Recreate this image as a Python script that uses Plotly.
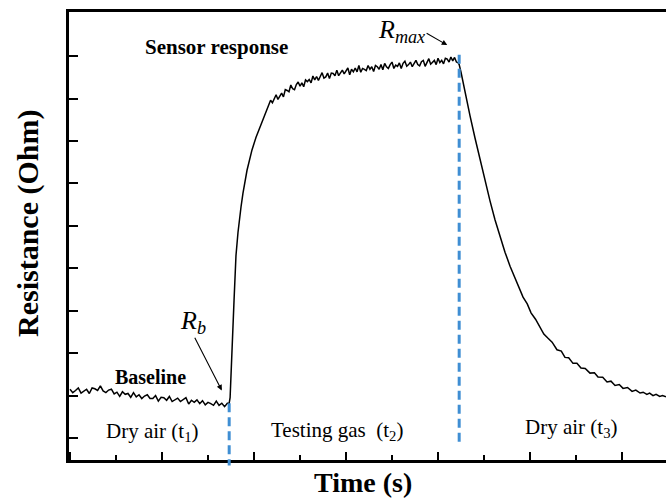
import plotly.graph_objects as go

# ---- data ----
# baseline in dry air (t1)
base_time = [0, 3, 6, 9, 12, 15, 18, 21, 24, 27, 30, 33, 36, 39, 42, 45, 48, 51, 54, 57, 60, 63,
             66, 69, 72, 75, 78, 81, 84, 87, 90, 93, 96, 99, 102, 105, 108, 111, 114, 117, 120,
             123, 126, 129, 132, 135, 138, 141, 144, 147, 150, 153, 156, 159, 162, 165, 168, 171,
             173]
base_res = [1.15, 1.07, 1.12, 1.18, 1.06, 1.11, 1.15, 1.05, 1.18, 1.16, 1.12, 1.23, 1.11, 1.07,
            1.13, 1.15, 1.04, 1.08, 0.98, 1.09, 1.03, 1.05, 0.96, 1.07, 0.97, 1.02, 0.93, 0.99,
            1.02, 0.93, 0.93, 1.00, 0.87, 0.96, 0.95, 0.89, 0.98, 0.86, 0.90, 0.94, 0.86, 0.90,
            0.95, 0.80, 0.89, 0.84, 0.90, 0.81, 0.88, 0.78, 0.84, 0.81, 0.77, 0.87, 0.77, 0.82,
            0.74, 0.82, 0.82]
# response in testing gas (t2)
gas_time = [174, 175.5, 177, 178.3, 180.4, 182.6, 185.9, 188, 192.4, 197.8, 202.2, 206.5, 212,
            216] + list(range(218, 421, 2)) + [422, 423]
gas_res = [0.95, 1.91, 2.43, 3.25, 4.30, 4.85, 5.45, 5.77, 6.31, 6.79, 7.09, 7.33, 7.61, 7.84,
           7.96, 7.90, 8.00, 8.09, 7.98, 8.07, 8.13, 8.04, 8.21, 8.19, 8.16, 8.32, 8.23, 8.21,
           8.33, 8.39, 8.29, 8.37, 8.28, 8.44, 8.40, 8.45, 8.37, 8.53, 8.44, 8.52, 8.43, 8.52,
           8.61, 8.48, 8.51, 8.60, 8.47, 8.60, 8.59, 8.54, 8.67, 8.54, 8.61, 8.67, 8.58, 8.65,
           8.72, 8.56, 8.69, 8.63, 8.72, 8.63, 8.78, 8.62, 8.71, 8.69, 8.66, 8.78, 8.69, 8.75,
           8.64, 8.78, 8.75, 8.69, 8.80, 8.68, 8.83, 8.75, 8.71, 8.80, 8.86, 8.71, 8.79, 8.76,
           8.84, 8.71, 8.83, 8.88, 8.76, 8.80, 8.86, 8.75, 8.83, 8.90, 8.80, 8.77, 8.87, 8.90,
           8.76, 8.86, 8.94, 8.81, 8.85, 8.90, 8.80, 8.95, 8.85, 8.90, 8.82, 8.95, 8.93, 8.86,
           8.98, 8.89, 8.97, 8.86, 8.84, 8.80]
# recovery in dry air (t3)
rec_time = [425, 429.3, 434.8, 440.2, 445.7, 451.1, 456.5, 462.0, 467.4, 472.8, 478.3, 484.8,
            492.4, 497, 501.1, 506, 510.9, 515, 519.6, 524, 529.3, 534, 538.0, 542, 546.7, 551,
            555.4, 560, 565.2, 570, 573.9, 579, 583.7, 588, 592.4, 597, 601.1, 606, 610.9, 615,
            619.6, 623, 627, 630, 633.7, 637, 641, 644, 647.8]
rec_res = [8.62, 8.13, 7.59, 7.07, 6.55, 6.06, 5.59, 5.14, 4.74, 4.38, 4.05, 3.70, 3.32, 3.16,
           2.95, 2.80, 2.61, 2.45, 2.35, 2.26, 2.08, 2.05, 1.90, 1.89, 1.76, 1.76, 1.65, 1.64,
           1.53, 1.54, 1.44, 1.43, 1.32, 1.34, 1.24, 1.26, 1.17, 1.19, 1.10, 1.13, 1.06, 1.08,
           1.03, 1.06, 1.00, 1.03, 0.98, 1.00, 0.97]

time_s = base_time + gas_time + rec_time
resistance = base_res + gas_res + rec_res

t1_end = 173      # end of dry air (t1) / gas switched on
t2_end = 423      # end of testing gas (t2)
region_labels = ["Dry air (t<sub>1</sub>)", "Testing gas  (t<sub>2</sub>)", "Dry air (t<sub>3</sub>)"]
region_label_x = [88.6, 290, 545]
region_label_y = [0.14, 0.16, 0.24]

x_range = [-1.1, 647.8]
y_range = [-0.518, 10.04]
y_tickvals = list(range(0, 10))

SERIF = "Liberation Serif"
BLUE = "#3f8ed3"


def to_paper(v):
    return (v - y_range[0]) / (y_range[1] - y_range[0])


fig = go.Figure()
fig.add_trace(go.Scatter(x=time_s, y=resistance, mode="lines",
                         line=dict(color="black", width=1.5), showlegend=False,
                         hoverinfo="skip"))

# dashed markers of the switching times
r_b = base_res[-1]
r_max = max(resistance)
fig.add_shape(type="line", xref="x", yref="paper", x0=t1_end, x1=t1_end,
              y0=to_paper(r_b), y1=-0.012,
              line=dict(color=BLUE, width=3, dash="9px,5px"))
fig.add_shape(type="line", xref="x", yref="paper", x0=t2_end, x1=t2_end,
              y0=to_paper(r_max + 0.05), y1=to_paper(-0.19),
              line=dict(color=BLUE, width=3, dash="9px,5px"))

annotations = []
# arrows
annotations.append(dict(x=t2_end - 13, y=r_max + 0.28, ax=386, ay=r_max + 0.58,
                        xref="x", yref="y", axref="x", ayref="y", text="",
                        showarrow=True, arrowhead=2, arrowsize=1, arrowwidth=1.1,
                        arrowcolor="black"))
annotations.append(dict(x=t1_end - 8, y=r_b + 0.3, ax=134.8, ay=2.4,
                        xref="x", yref="y", axref="x", ayref="y", text="",
                        showarrow=True, arrowhead=2, arrowsize=1, arrowwidth=1.1,
                        arrowcolor="black"))
# labels
annotations.append(dict(x=158.7, y=9.21, xref="x", yref="y", text="<b>Sensor response</b>",
                        showarrow=False, font=dict(family=SERIF, size=21, color="black")))
annotations.append(dict(x=87, y=1.44, xref="x", yref="y", text="<b>Baseline</b>",
                        showarrow=False, font=dict(family=SERIF, size=20, color="black")))
annotations.append(dict(x=360, y=9.59, xref="x", yref="y", text="<i>R<sub>max</sub></i>",
                        showarrow=False, font=dict(family=SERIF, size=26, color="black")))
annotations.append(dict(x=134, y=2.73, xref="x", yref="y", text="<i>R<sub>b</sub></i>",
                        showarrow=False, font=dict(family=SERIF, size=26, color="black")))
for txt, lx, ly in zip(region_labels, region_label_x, region_label_y):
    annotations.append(dict(x=lx, y=ly, xref="x", yref="y", text=txt, showarrow=False,
                            font=dict(family=SERIF, size=21, color="black")))
# axis titles
annotations.append(dict(x=0.492, y=-0.051, xref="paper", yref="paper", text="<b>Time (s)</b>",
                        xanchor="center", yanchor="middle",
                        showarrow=False, font=dict(family=SERIF, size=28, color="black")))
annotations.append(dict(x=-0.0687, y=0.529, xref="paper", yref="paper",
                        text="<b>Resistance (Ohm)</b>", textangle=-90,
                        xanchor="center", yanchor="middle",
                        showarrow=False, font=dict(family=SERIF, size=30, color="black")))

fig.update_layout(
    width=666, height=500,
    margin=dict(l=69, r=0, t=12, b=40),
    paper_bgcolor="white", plot_bgcolor="white",
    annotations=annotations,
    xaxis=dict(range=x_range, showgrid=False, zeroline=False, showticklabels=False,
               showline=True, linecolor="black", linewidth=2.5, mirror=True,
               ticks="inside", tickvals=[0, 100, 200, 300, 400, 500, 600],
               ticklen=8, tickwidth=2, tickcolor="black",
               minor=dict(tickvals=[50, 150, 250, 350, 450, 550], ticks="inside",
                          ticklen=5, tickwidth=2, tickcolor="black", showgrid=False)),
    yaxis=dict(range=y_range, showgrid=False, zeroline=False, showticklabels=False,
               showline=True, linecolor="black", linewidth=2.5,
               ticks="inside", tickvals=y_tickvals, ticklen=9, tickwidth=2,
               tickcolor="black"),
)

fig.write_html("out.html", config={"displayModeBar": False},
               post_script="document.body.style.margin='0';document.body.style.overflow='hidden';")
